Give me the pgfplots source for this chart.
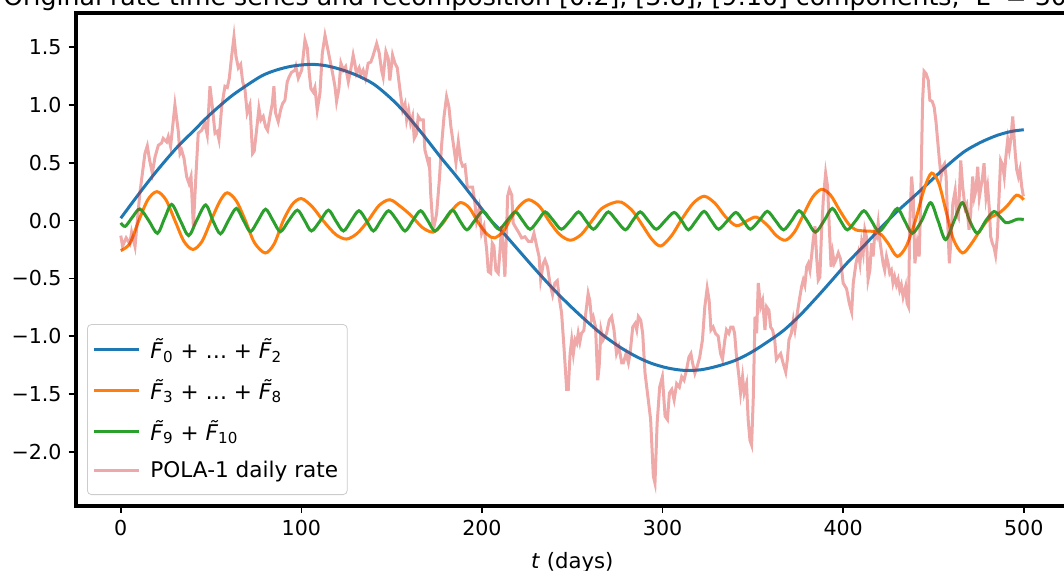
\documentclass[border=0pt]{standalone}
\usepackage{pgfplots}
\pgfplotsset{compat=1.18}
\usepackage{fontspec}
\setmainfont{DejaVu Sans}
\definecolor{tabblue}{HTML}{1F77B4}
\definecolor{taborange}{HTML}{FF7F0E}
\definecolor{tabgreen}{HTML}{2CA02C}
\definecolor{tabred}{HTML}{D62728}
\newcommand{\Ft}[1]{\textit{\~{F}}\textsubscript{#1}}
\begin{document}
\begin{tikzpicture}
\begin{axis}[
  at={(0,0)}, anchor=south west, name=ax,
  width=496.65pt, height=246.5pt, scale only axis,
  xmin=-25, xmax=525, ymin=-2.467, ymax=1.794,
  axis line style={line width=2pt, black},
  tick align=outside, major tick length=3.5pt,
  every tick/.style={black, line width=0.8pt},
  xtick pos=left, ytick pos=left,
  xtick={0,100,200,300,400,500},
  xticklabels={0,100,200,300,400,500},
  ytick={-2,-1.5,-1,-0.5,0,0.5,1,1.5},
  yticklabels={−2.0,−1.5,−1.0,−0.5,0.0,0.5,1.0,1.5},
  tick label style={font=\fontsize{10.3}{12}\selectfont},
  xlabel={\textit{t} (days)},
  xlabel style={at={(axis description cs:0.5,0)}, anchor=base, yshift=-31.5pt, inner sep=0pt, font=\fontsize{10.6}{12}\selectfont},
  legend cell align=left,
  legend style={at={(0.0115,0.0223)}, anchor=south west,
    draw=black!20, fill=white, fill opacity=0.8, draw opacity=1, text opacity=1,
    rounded corners=2pt, font=\fontsize{10.8}{13}\selectfont,
    inner xsep=2.5pt, inner ysep=5pt, row sep=5pt},
  legend image code/.code={\draw[#1] (0pt,0pt) -- (22.5pt,0pt); \path (25.5pt,0pt);},
]
\addplot[tabblue, line width=1.5pt, smooth] coordinates {
(0,0.02) (10,0.23) (20,0.43) (31,0.63) (40,0.77) (49,0.91) (60,1.06) (68,1.15)
(78,1.25) (86,1.30) (95,1.335) (105,1.35) (113,1.34) (121,1.31) (130,1.26)
(140,1.18) (150,1.05) (158,0.92) (168,0.73) (177,0.55) (187,0.36) (197,0.16)
(205,0.0) (212,-0.11) (221,-0.27) (230,-0.43) (240,-0.60) (249,-0.74) (258,-0.87)
(267,-0.99) (277,-1.10) (286,-1.18) (294,-1.235) (303,-1.275) (312,-1.295) (321,-1.29)
(330,-1.26) (340,-1.21) (349,-1.14) (358,-1.05) (367,-0.95) (376,-0.82) (385,-0.67)
(393,-0.53) (402,-0.37) (412,-0.21) (421,-0.06) (430,0.08) (440,0.22) (449,0.35)
(458,0.48) (467,0.595) (476,0.675) (485,0.735) (493,0.77) (500,0.785)
};
\addlegendentry{\Ft{0} + \ldots\ + \Ft{2}}
\addplot[taborange, line width=1.5pt, smooth] coordinates {
(0,-0.26) (5,-0.2) (10,0.0) (15,0.18) (20,0.25) (25,0.18) (30,0.0) (35,-0.18)
(40,-0.25) (45,-0.18) (50,0.0) (55,0.17) (59,0.24) (64,0.17) (69,0.0) (74,-0.19)
(80,-0.28) (85,-0.2) (90,0.0) (95,0.14) (100,0.19) (106,0.12) (112,0.0) (119,-0.12)
(125,-0.16) (131,-0.11) (137,0.0) (143,0.13) (149,0.18) (155,0.12) (161,0.04)
(167,-0.06) (173,-0.1) (178,-0.03) (183,0.08) (188,0.155) (193,0.11) (198,-0.02)
(203,-0.12) (207,-0.15) (212,-0.09) (216,0.02) (221,0.13) (226,0.18) (232,0.12)
(237,0.0) (243,-0.12) (249,-0.17) (255,-0.12) (261,0.0) (266,0.1) (272,0.15)
(277,0.16) (283,0.09) (288,-0.02) (294,-0.16) (299,-0.22) (305,-0.13) (311,0.02)
(317,0.15) (323,0.21) (329,0.15) (335,0.03) (341,-0.045) (347,0.0) (352,0.03)
(358,-0.04) (363,-0.13) (368,-0.17) (373,-0.1) (378,0.05) (383,0.2) (388,0.27)
(393,0.22) (398,0.09) (403,-0.03) (407,-0.08) (412,-0.09) (417,-0.095) (421,-0.12)
(425,-0.2) (430,-0.31) (435,-0.22) (440,0.0) (445,0.28) (449,0.41) (453,0.32)
(457,0.08) (461,-0.16) (466,-0.28) (471,-0.2) (476,-0.08) (481,0.02) (486,0.06)
(491,0.13) (496,0.22) (500,0.18)
};
\addlegendentry{\Ft{3} + \ldots\ + \Ft{8}}
\addplot[tabgreen, line width=1.5pt, smooth] coordinates {
(0,-0.02) (2.5,-0.05) (6.5,0.03) (10.6,0.10) (15.5,0.0) (20.3,-0.11) (24.3,0.02)
(28.2,0.14) (33,0.0) (37.6,-0.13) (42,0.0) (47,0.135) (51,0.0) (55.2,-0.115)
(59.6,0.0) (64,0.105) (68,0.0) (71.8,-0.096) (76,0.0) (80.2,0.098) (84.3,0.0)
(88.4,-0.096) (93,0.0) (97.8,0.09) (101.8,0.0) (105.6,-0.09) (110.5,0.0) (115,0.09)
(119,0.0) (123.3,-0.09) (127.6,0.0) (131.9,0.085) (136,0.0) (139.9,-0.09) (144,0.0)
(148.3,0.085) (153,0.0) (157.4,-0.09) (161.7,0.0) (166,0.085) (170,0.0) (174,-0.09)
(179,0.0) (183.7,0.09) (187.7,0.0) (191.7,-0.08) (196,0.0) (200.5,0.08) (205,0.0)
(209.4,-0.075) (214,0.0) (218.5,0.075) (222.5,0.0) (226.6,-0.075) (231,0.0)
(235,0.075) (239.5,0.0) (244,-0.075) (249,0.0) (253.5,0.075) (257.5,0.0)
(261.7,-0.075) (266,0.0) (270,0.075) (274.5,0.0) (279.4,-0.08) (283.5,0.0)
(287.6,0.075) (292,0.0) (296.5,-0.075) (301.5,0.0) (306.4,0.07) (310.5,0.0)
(314.3,-0.08) (318.6,0.0) (323,0.08) (327,0.0) (331,-0.075) (336,0.0) (340.6,0.07)
(344.6,0.0) (348.6,-0.075) (353.5,0.0) (358,0.08) (362.5,0.0) (367,-0.08)
(371.5,0.0) (375.6,0.085) (380,0.0) (384.6,-0.1) (389.5,0.0) (394,0.105)
(398.5,0.0) (402.3,-0.08) (407,0.0) (411.5,0.085) (415.6,0.0) (419.8,-0.095)
(425,0.0) (430,0.105) (434,0.0) (438.3,-0.11) (443.5,0.0) (448.4,0.155)
(452.5,0.0) (456.7,-0.165) (461.5,0.0) (466,0.155) (470,0.0) (474.3,-0.11)
(479,0.0) (483.5,0.078) (487,0.03) (490,-0.018) (493,-0.01) (496.2,0.011) (500,0.01)
};
\addlegendentry{\Ft{9} + \Ft{10}}
\addplot[tabred, opacity=0.4, line width=1.5pt] coordinates {
(0,-0.13) (1,-0.22) (3,-0.15) (5,-0.20) (6,-0.10) (7.9,-0.225) (10.6,0.24)
(13.4,0.58) (14.7,0.645) (16,0.52) (17.5,0.41) (19,0.55) (20.8,0.65) (22.6,0.67)
(23.5,0.71) (25.4,0.68) (26.3,0.725) (27.6,0.64) (30,1.0) (31.8,0.78) (32.8,0.58)
(33.7,0.61) (35,0.54) (36.5,0.38) (37.8,0.32) (38.9,0.38) (40.2,-0.05) (41.6,0.38)
(42.9,0.755) (44.8,0.78) (46.6,0.84) (47.9,0.74) (49.4,1.16) (50.7,0.985)
(52.2,0.755) (53.4,0.77) (54.4,0.70) (55.9,0.985) (57.7,1.16) (59,1.15) (60.1,1.23)
(61.4,1.42) (62.7,1.59) (63.8,1.42) (65.1,1.32) (66.4,1.35) (67.5,1.20) (68.8,1.13)
(70,0.93) (71.5,1.0) (73,0.58) (73.9,0.60) (75.2,0.78) (76.5,0.97) (77.6,0.87)
(78.9,0.90) (80.2,0.81) (81.3,0.78) (82.6,0.90) (83.9,1.01) (84.8,1.16) (85.7,0.93)
(87.2,0.855) (88.5,0.955) (89.6,1.01) (90.9,1.04) (92.2,1.20) (93.2,1.24)
(94.5,1.28) (96.5,1.30) (97,1.33) (98.3,1.23) (100.2,1.30) (102,1.56) (103.3,1.49)
(104.4,1.27) (105.3,1.14) (106.6,1.11) (107.5,1.15) (108.8,0.955) (110.3,1.10)
(111.6,1.445) (113.1,1.60) (114.4,1.50) (115.8,1.39) (117.1,1.29) (118.6,1.16)
(119.5,1.03) (120.8,1.14) (121.9,1.36) (123.2,1.30) (124.5,1.33) (126,1.20)
(127.3,1.30) (128.7,1.43) (129.6,1.36) (130.5,1.27) (132,1.32) (132.9,1.26)
(134.2,1.30) (135.5,1.23) (137,1.36) (138.5,1.37) (139.8,1.43) (141.7,1.53)
(143.1,1.45) (144.4,1.30) (145.3,1.24) (146.8,1.46) (148.1,1.40) (149,1.21)
(150.5,1.43) (151.8,1.36) (153.1,1.32) (154.6,1.13) (156.1,0.955) (157.4,1.01)
(158.3,0.87) (159.4,0.955) (160.5,0.84) (161.6,0.90) (162.5,0.71) (163.8,0.75)
(164.7,0.90) (166,0.87) (167.5,0.87) (168.4,0.61) (169.4,0.55) (170.3,0.495)
(170.8,0.55) (171.6,0.236) (172.7,-0.02) (173.6,-0.04) (174.9,0.06) (176.4,0.35)
(177.6,0.64) (179,0.90) (180.4,1.07) (181.7,0.985) (182.8,0.81) (184.1,0.67)
(185.6,0.50) (186.9,0.68) (188.2,0.52) (189.3,0.47) (190.6,0.48) (191.9,0.29)
(193.4,0.29) (194.8,0.29) (196.1,0.15) (197,0.0) (198.5,0.11) (199.8,-0.11)
(201.1,-0.05) (202.6,-0.25) (203.5,-0.44) (204.8,-0.455) (205.7,-0.196)
(206.6,-0.22) (207.7,-0.43) (209,-0.455) (209.9,-0.28) (210.9,-0.05) (211.8,-0.25)
(212.7,-0.485) (213.6,-0.11) (214.2,0.21) (215.2,0.27) (216.5,0.22) (217.3,-0.02)
(218.3,-0.05) (220.1,-0.096) (222,-0.15) (223.8,-0.14) (225.7,-0.18) (227.5,-0.18)
(228.8,-0.11) (230.3,-0.22) (231.6,-0.31) (232.5,-0.51) (234,-0.37) (234.9,-0.34)
(236.3,-0.40) (237.6,-0.54) (239.1,-0.64) (240.4,-0.54) (241.7,-0.52) (242.8,-0.67)
(244.1,-0.80) (245.4,-1.09) (246.9,-1.46) (247.8,-1.46) (248.8,-1.15) (249.7,-1.03)
(250.6,-1.15) (251.6,-1.03) (252.5,-1.06) (253.3,-0.975) (254.2,-1.05)
(255.1,-0.975) (256.4,-0.95) (257.5,-0.80) (258.8,-0.63) (259.7,-0.69) (260.7,-0.86)
(261.6,-0.83) (262.9,-0.92) (264.1,-1.38) (264.9,-1.26) (265.9,-0.945) (267.1,-1.03)
(269,-0.975) (270.5,-0.86) (271.8,-0.83) (273.1,-0.945) (274.5,-1.15) (275.8,-1.09)
(277.4,-1.23) (278.3,-1.23) (279.8,-1.15) (281.1,-1.23) (282,-1.15) (283.5,-0.92)
(284.8,-0.89) (285.7,-0.945) (286.6,-0.83) (287.9,-0.86) (289,-0.975) (290.3,-1.32)
(292.1,-1.55) (293.4,-1.72) (294.9,-2.21) (295.8,-2.27) (297,-1.75) (298.4,-1.44)
(299.9,-1.35) (301.4,-1.69) (302.7,-1.72) (303.8,-1.49) (305.1,-1.46) (306.4,-1.55)
(307.8,-1.41) (309.3,-1.44) (310.6,-1.35) (311.9,-1.38) (313.3,-1.29) (314.6,-1.18)
(315.7,-1.15) (316.6,-1.23) (317.9,-1.32) (319.2,-1.26) (320.6,-1.18) (322.1,-1.03)
(323.4,-0.745) (324.7,-0.585) (325.8,-0.69) (326.8,-0.945) (328,-0.92)
(329.3,-0.975) (330.8,-1.0) (332.1,-1.15) (333.2,-1.20) (334.5,-1.03)
(335.4,-0.945) (336.7,-0.975) (337.8,-0.92) (339,-0.92) (339.9,-0.975)
(340.8,-1.15) (342.1,-1.32) (343.2,-1.49) (344.3,-1.35) (345.2,-1.49) (346.5,-1.41)
(347.4,-1.72) (348.4,-1.90) (349.3,-1.94) (350.2,-1.55) (351.2,-0.83) (352.1,-0.975)
(353,-0.54) (354.3,-0.745) (355.4,-0.69) (356.7,-0.945) (357.6,-0.745)
(358.9,-0.775) (359.8,-0.92) (360.9,-0.945) (362.1,-1.03) (363,-1.20) (363.9,-1.18)
(365.4,-1.15) (366.7,-1.23) (368.2,-1.31) (369.1,-1.20) (370,-1.03) (371.3,-0.975)
(372.4,-0.86) (373.3,-0.945) (374.6,-0.80) (375.7,-0.69) (377,-0.57) (377.9,-0.515)
(378.8,-0.56) (379.8,-0.40) (380.7,-0.37) (381.6,-0.43) (382.5,-0.31) (383.4,-0.17)
(384.4,-0.05) (385.3,-0.31) (386.2,-0.515) (387.1,-0.49) (388,-0.11) (389,0.18)
(390.3,0.41) (391.4,0.29) (392.3,-0.05) (393.3,-0.40) (394.2,-0.28) (395.1,-0.37)
(396,-0.34) (397.3,-0.28) (398.5,-0.33) (400,-0.54) (401.9,-0.59) (403.4,-0.715)
(404.7,-0.79) (405.6,-0.54) (407.1,-0.37) (408.4,-0.28) (409.3,-0.37)
(410.2,-0.196) (411.1,-0.28) (412,-0.08) (412.9,-0.14) (413.8,-0.51) (414.8,-0.43)
(415.7,-0.196) (416.6,-0.31) (417.5,-0.11) (418.5,-0.14) (419.4,-0.02) (420.3,-0.17)
(421.2,-0.27) (422.1,-0.37) (423,-0.43) (424,-0.31) (424.9,-0.37) (425.8,-0.455)
(426.7,-0.43) (427.6,-0.54) (428.5,-0.485) (429.5,-0.555) (430.4,-0.51)
(431.3,-0.60) (432.2,-0.555) (433.2,-0.66) (434.6,-0.57) (435.4,-0.715)
(436.2,-0.745) (436.9,-0.02) (437.9,0.38) (438.8,0.20) (439.7,-0.37) (441,-0.196)
(442.1,-0.31) (442.8,0.09) (444,1.04) (444.8,1.29) (445.9,1.27) (447.1,1.215)
(448,1.04) (449.3,1.03) (450.4,0.98) (451.4,0.855) (452.1,0.73) (453.3,0.52)
(454.2,0.38) (455.2,0.465) (456.1,0.49) (457,0.38) (457.9,-0.02) (458.8,-0.37)
(459.8,-0.14) (460.7,0.145) (462,0.26) (462.9,0.055) (463.8,0.026) (465.1,0.52)
(466.2,0.29) (467.5,0.11) (468.4,0.14) (469.7,-0.08) (470.6,0.055) (471.7,0.38)
(472.6,0.20) (473.5,0.26) (474.5,0.465) (475.4,0.20) (476.3,0.29) (477.2,0.38)
(478,0.495) (479.1,0.20) (480,0.29) (480.9,0.11) (481.7,-0.14) (482.6,-0.196)
(483.5,-0.23) (484.4,-0.30) (485.4,-0.14) (486.3,0.20) (487.2,0.52) (488.3,0.48)
(489.2,0.38) (490.1,0.55) (491.1,0.70) (492,0.61) (492.9,0.71) (493.9,0.90)
(494.6,0.73) (495.3,0.58) (496.1,0.44) (497,0.38) (497.9,0.44) (498.9,0.29)
(499.8,0.21)
};
\addlegendentry{POLA-1 daily rate}
\end{axis}
\node[anchor=base west, font=\fontsize{12.6}{14}\selectfont, inner sep=0pt] at (-36.3pt,250.3pt)
  {Original rate time series and recomposition [0:2], [3:8], [9:10] components, 'L' = 30};
\pgfresetboundingbox
\useasboundingbox (-37.8pt,-32.5pt) rectangle (494.2pt,253pt);
\end{tikzpicture}
\end{document}
